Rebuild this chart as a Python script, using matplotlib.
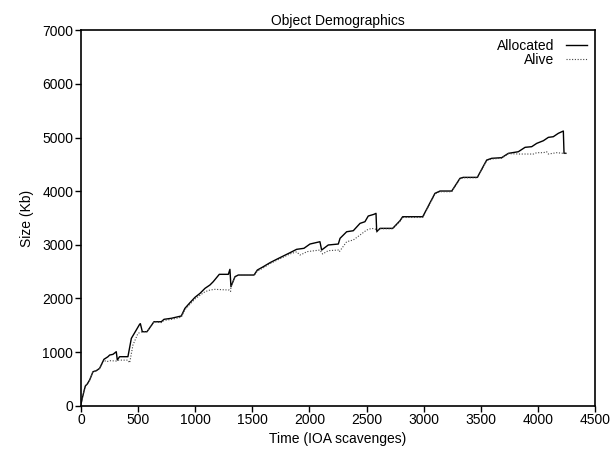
import matplotlib
matplotlib.use("Agg")
import matplotlib.pyplot as plt

plt.rcParams['font.family'] = ['Liberation Sans', 'DejaVu Sans']

alloc_x = [0, 18, 38, 55, 76, 105, 134, 163, 201, 236, 251, 280, 309, 318, 338, 411,
           441, 484, 513, 520, 537, 578, 639, 703, 727, 791, 878, 910, 954, 998, 1042,
           1086, 1129, 1158, 1211, 1290, 1304, 1313, 1348, 1377, 1515, 1544, 1596, 1655,
           1713, 1771, 1830, 1888, 1952, 2005, 2092, 2107, 2165, 2253, 2268, 2326, 2384,
           2443, 2486, 2515, 2565, 2583, 2589, 2618, 2729, 2793, 2816, 2992, 3056, 3099,
           3143, 3246, 3318, 3347, 3470, 3552, 3596, 3683, 3742, 3829, 3888, 3946, 3990,
           4048, 4092, 4135, 4179, 4223, 4229, 4245]
alloc_y = [30, 200, 367, 405, 480, 634, 652, 697, 865, 913, 945, 958, 1007, 852, 914, 914,
           1256, 1411, 1517, 1530, 1380, 1380, 1566, 1566, 1611, 1630, 1673, 1816, 1921, 2021, 2095,
           2189, 2251, 2313, 2450, 2450, 2543, 2219, 2405, 2437, 2437, 2530, 2592, 2667,
           2730, 2791, 2853, 2916, 2935, 3015, 3058, 2903, 2997, 3015, 3121, 3244, 3263,
           3400, 3431, 3537, 3569, 3587, 3244, 3307, 3307, 3450, 3524, 3524, 3785, 3960,
           4003, 4003, 4240, 4258, 4258, 4581, 4613, 4625, 4706, 4736, 4818, 4830, 4892,
           4941, 5004, 5016, 5079, 5122, 4706, 4706]

alive_x = [0, 18, 38, 55, 76, 105, 134, 163, 201, 222, 260, 309, 330, 411, 426, 455, 499,
           537, 578, 639, 703, 727, 791, 878, 910, 954, 998, 1042, 1086, 1129, 1173, 1298,
           1310, 1313, 1348, 1377, 1515, 1544, 1596, 1655, 1713, 1771, 1830, 1888, 1917,
           1952, 1976, 2092, 2116, 2165, 2253, 2262, 2326, 2384, 2443, 2501, 2545, 2583,
           2589, 2618, 2729, 2793, 2816, 2992, 3056, 3099, 3143, 3246, 3318, 3347, 3470,
           3552, 3596, 3683, 3742, 3843, 3961, 3990, 4048, 4077, 4092, 4165, 4223, 4245]
alive_y = [30, 200, 367, 405, 480, 634, 652, 697, 850, 821, 840, 833, 850, 850, 800, 1132, 1350,
           1380, 1380, 1566, 1550, 1590, 1610, 1650, 1790, 1890, 1990, 2060, 2126, 2157, 2170, 2157,
           2130, 2219, 2405, 2430, 2430, 2510, 2570, 2650, 2710, 2770, 2830, 2870, 2810,
           2842, 2872, 2903, 2829, 2891, 2903, 2872, 3058, 3090, 3183, 3276, 3307, 3290,
           3244, 3300, 3300, 3440, 3510, 3510, 3770, 3950, 3990, 3990, 4230, 4250, 4250,
           4570, 4600, 4615, 4700, 4693, 4693, 4718, 4718, 4736, 4693, 4718, 4706, 4706]

x_ticks = [0, 500, 1000, 1500, 2000, 2500, 3000, 3500, 4000, 4500]
y_ticks = [0, 1000, 2000, 3000, 4000, 5000, 6000, 7000]

FS = 10

fig = plt.figure(figsize=(6.13, 4.51), dpi=100)
ax = fig.add_axes([0.1321, 0.1004, 0.8385, 0.8324])

ax.plot(alloc_x, alloc_y, color='black', lw=1.0, label='Allocated')
ax.plot(alive_x, alive_y, color='#444444', lw=0.8, linestyle=(0, (1, 1.5)), label='Alive')

ax.set_xlim(0, 4500)
ax.set_ylim(0, 7000)
ax.set_xticks(x_ticks)
ax.set_yticks(y_ticks)
ax.tick_params(direction='out', length=4, width=1, labelsize=FS, pad=1.5,
               top=False, right=False)
for s in ax.spines.values():
    s.set_linewidth(1.2)

ax.set_title('Object Demographics', fontsize=FS, pad=4)
ax.set_xlabel('Time (IOA scavenges)', fontsize=FS, labelpad=3)
ax.set_ylabel('Size (Kb)', fontsize=FS, labelpad=6)

leg = ax.legend(loc='upper right', frameon=False, markerfirst=False, fontsize=FS,
                handlelength=1.5, handletextpad=0.8, labelspacing=0.0,
                borderaxespad=0.4, borderpad=0.2)

fig.savefig('out.png', dpi=100)
